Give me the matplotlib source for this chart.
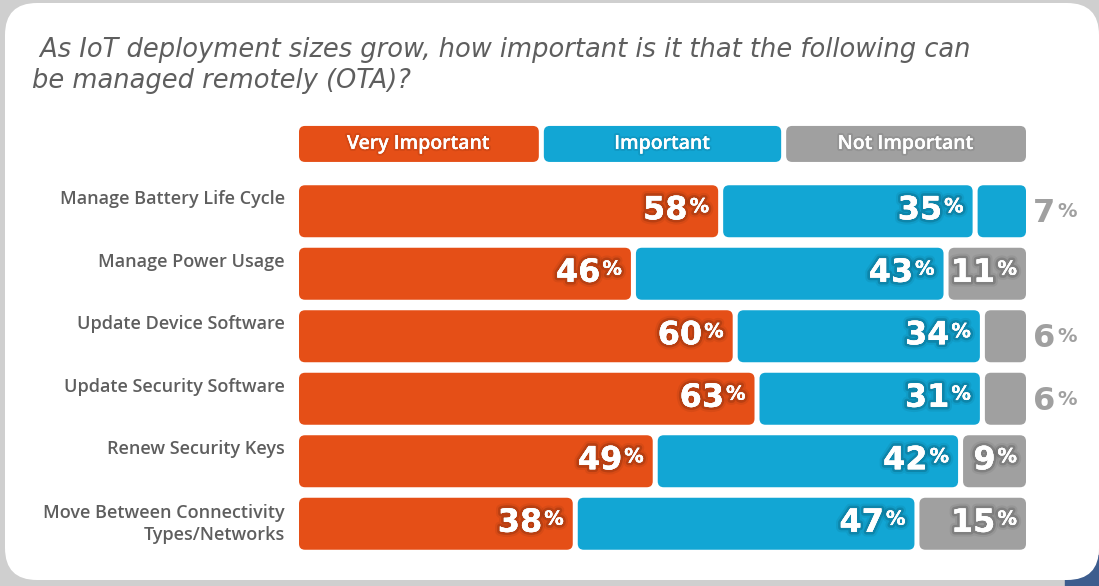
import matplotlib
matplotlib.use("Agg")
import matplotlib.pyplot as plt
import matplotlib.patheffects as pe
from matplotlib.patches import FancyBboxPatch, Rectangle

# ---------------- data ----------------
title_lines = [" As IoT deployment sizes grow, how important is it that the following can",
               "be managed remotely (OTA)?"]
categories = [
    "Manage Battery Life Cycle",
    "Manage Power Usage",
    "Update Device Software",
    "Update Security Software",
    "Renew Security Keys",
    "Move Between Connectivity\nTypes/Networks",
]
series_names = ["Very Important", "Important", "Not Important"]
very_important = [58, 46, 60, 63, 49, 38]
important = [35, 43, 34, 31, 42, 47]
not_important = [7, 11, 6, 6, 9, 15]

# ---------------- style ----------------
ORANGE = "#E54F17"
BLUE = "#12A6D4"
GRAY = "#A0A0A0"
TEXT_GRAY = "#5E5E5E"
series_colors = [ORANGE, BLUE, GRAY]
# the reference paints the first row's "Not Important" segment blue
third_colors = [BLUE, GRAY, GRAY, GRAY, GRAY, GRAY]

W, H = 1099, 586
fig = plt.figure(figsize=(W / 100, H / 100), dpi=100)
fig.patch.set_facecolor("#cfcfcf")

# background / card in pixel coords
bg = fig.add_axes([0, 0, 1, 1], zorder=0)
bg.set_xlim(0, W)
bg.set_ylim(H, 0)
bg.axis("off")
bg.add_patch(Rectangle((1065, 555), 50, 40, color="#3d5d8e", zorder=0))
bg.add_patch(FancyBboxPatch((5, 3), 1094, 577, boxstyle="round,pad=0,rounding_size=32",
                            fc="white", ec="none", zorder=1))
for k, line in enumerate(title_lines):
    bg.text(32, 57 + 31 * k, line, fontsize=18.5, style="oblique", color=TEXT_GRAY,
            family="DejaVu Sans", va="baseline", ha="left")

# main axes: x in percent maps to px 299..1026, rows in px 180..555
ax = fig.add_axes([299 / W, 1 - 555 / H, 727 / W, 375 / H], zorder=2)
ax.set_xlim(0, 100)
ax.set_ylim(len(categories) - 0.5, -0.5)
ax.axis("off")
ax.patch.set_alpha(0)

px_x = 727 / 100.0      # pixels per x unit
px_y = 375 / 6.0        # pixels per y unit
gap = 5 / px_x
bar_h = 52 / px_y
rad = 6 / px_x
asp = px_x / px_y

shadow_fx = [pe.withStroke(linewidth=7, foreground=(0, 0, 0, 0.06)),
             pe.withStroke(linewidth=4, foreground=(0, 0, 0, 0.14)),
             pe.Normal()]
num_font = dict(family="DejaVu Sans", weight="bold", fontsize=23)
pct_font = dict(family="DejaVu Sans", weight="bold", fontsize=14)


def rounded(x0, x1, yc, h, color, clip=True):
    p = FancyBboxPatch((x0, yc - h / 2), x1 - x0, h,
                       boxstyle=f"round,pad=0,rounding_size={rad}",
                       mutation_aspect=asp, fc=color, ec="none", clip_on=clip)
    ax.add_patch(p)
    return p


# legend boxes
leg_y = -1.077
leg_h = 36 / px_y
for k, name in enumerate(series_names):
    x0 = k * 100 / 3 + (0 if k == 0 else gap / 2)
    x1 = (k + 1) * 100 / 3 - (0 if k == 2 else gap / 2)
    rounded(x0, x1, leg_y, leg_h, series_colors[k], clip=False)
    ax.text((x0 + x1) / 2, leg_y, name, ha="center", va="center", color="white",
            family="Open Sans", weight="semibold", fontsize=14, clip_on=False,
            path_effects=[pe.withStroke(linewidth=3, foreground=(0, 0, 0, 0.08)), pe.Normal()])

rows = list(zip(very_important, important, not_important))
for i, (vals, cat) in enumerate(zip(rows, categories)):
    cols = [ORANGE, BLUE, third_colors[i]]
    left = 0
    for j, v in enumerate(vals):
        x0 = left + (gap / 2 if j > 0 else 0)
        x1 = left + v - (gap / 2 if j < 2 else 0)
        rounded(x0, x1, i, bar_h, cols[j])
        if v >= 8:
            pct = ax.annotate("%", xy=(x1, i), xytext=(-9, -1), textcoords="offset pixels",
                              ha="right", va="baseline", color="white",
                              path_effects=shadow_fx, **pct_font)
            ax.annotate(f"{v}", xy=(0, 0), xycoords=pct, xytext=(-2, -10),
                        textcoords="offset pixels", ha="right", va="bottom",
                        color="white", path_effects=shadow_fx, **num_font)
        else:
            num = ax.annotate(f"{v}", xy=(100, i), xytext=(7, -11), textcoords="offset pixels",
                              ha="left", va="baseline", color=GRAY, annotation_clip=False,
                              **num_font)
            ax.annotate("%", xy=(1, 1), xycoords=num, xytext=(2, -4),
                        textcoords="offset pixels", ha="left", va="top",
                        color=GRAY, annotation_clip=False, **pct_font)
        left += v
    # category label
    yoff = 12 if "\n" not in cat else 0
    ax.annotate(cat, xy=(0, i), xytext=(-14, yoff), textcoords="offset pixels",
                ha="right", va="center", color=TEXT_GRAY, family="Open Sans",
                weight="semibold", fontsize=13, annotation_clip=False, linespacing=1.3)

fig.savefig("out.png", dpi=100, facecolor=fig.get_facecolor())
